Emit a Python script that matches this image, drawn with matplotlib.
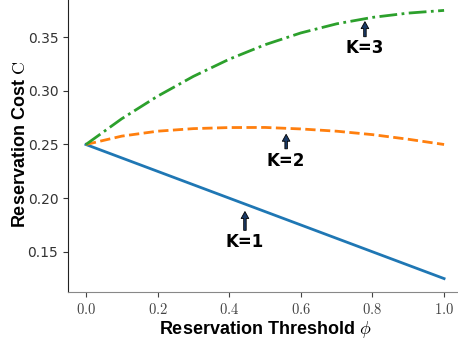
import matplotlib
matplotlib.use("Agg")
import matplotlib.pyplot as plt
from matplotlib.ticker import FuncFormatter

plt.rcParams["mathtext.fontset"] = "cm"

# reservation threshold (x) and cost for K = 1, 2, 3
phi = [0.0, 0.1, 0.2, 0.3, 0.4, 0.5, 0.6, 0.7, 0.8, 0.9, 1.0]
cost_k1 = [0.25, 0.2375, 0.225, 0.2125, 0.2, 0.1875, 0.175, 0.1625, 0.15, 0.1375, 0.125]
cost_k2 = [0.25, 0.2578, 0.2624, 0.2648, 0.2658, 0.2659, 0.2645, 0.2624, 0.2592, 0.2549, 0.25]
cost_k3 = [0.25, 0.274, 0.295, 0.3135, 0.3295, 0.343, 0.354, 0.3625, 0.3685, 0.3725, 0.375]

# annotation anchors: (label, arrow tip, text position)
notes = [
    ("K=1", (0.444, 0.1875), (0.444, 0.159)),
    ("K=2", (0.559, 0.2595), (0.559, 0.235)),
    ("K=3", (0.779, 0.3645), (0.779, 0.3395)),
]

fig = plt.figure(figsize=(4.58, 3.41), dpi=100)
ax = fig.add_axes([68 / 458, 49 / 341, 394 / 458, 295 / 341])

ax.plot(phi, cost_k1, color="#1f77b4", lw=2, linestyle="-")
ax.plot(phi, cost_k2, color="#ff7f0e", lw=2, linestyle="--")
ax.plot(phi, cost_k3, color="#2ca02c", lw=2, linestyle="-.")

for label, tip, txt in notes:
    ax.annotate(label, xy=tip, xytext=txt, ha="center", va="center",
                fontsize=12, fontweight="bold", family="DejaVu Sans",
                arrowprops=dict(facecolor="#1b3a66", edgecolor="black", lw=0.6,
                                width=1.8, headwidth=5.5, headlength=5, shrink=0.0))

ax.set_xlim(-0.05, 1.05)
ax.set_ylim(0.1125, 0.3875)
ax.set_xticks([0.0, 0.2, 0.4, 0.6, 0.8, 1.0])
ax.set_yticks([0.15, 0.20, 0.25, 0.30, 0.35])
ax.xaxis.set_major_formatter(FuncFormatter(lambda v, p: f"${v:.1f}$"))
ax.tick_params(axis="x", labelsize=10.5, colors="#444444")
ax.tick_params(axis="y", labelsize=10, colors="#333333")

ax.spines["top"].set_visible(False)
ax.spines["right"].set_visible(False)
ax.spines["bottom"].set_color("#888888")
ax.spines["left"].set_color("#222222")

ax.set_xlabel(r"Reservation Threshold $\phi$", fontsize=13, fontweight="bold",
              family="Liberation Sans", labelpad=2)
ax.set_ylabel(r"Reservation Cost $\mathrm{C}$", fontsize=13, fontweight="bold",
              family="Liberation Sans", labelpad=-1)

fig.savefig("out.png", dpi=100)
